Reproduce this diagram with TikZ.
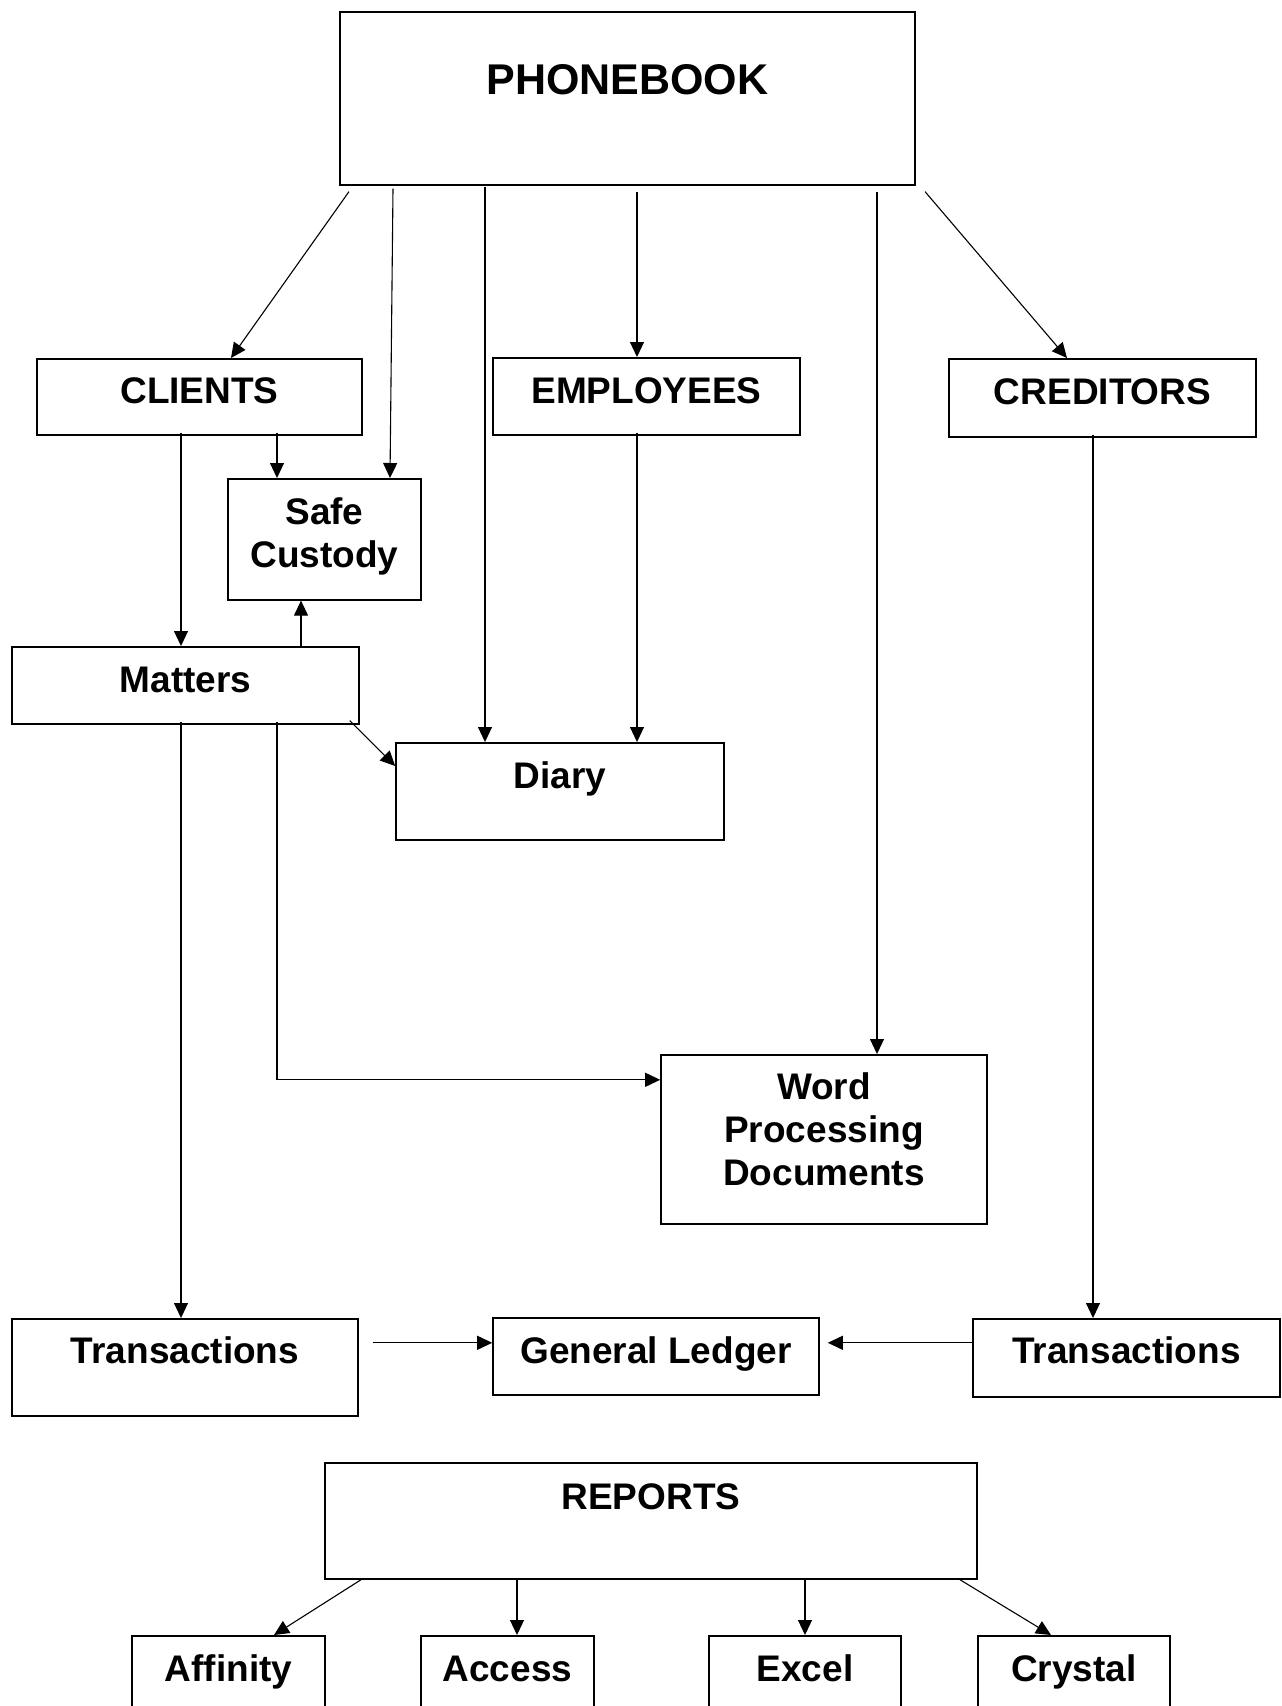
\documentclass[tikz,border=0pt]{standalone}
\usepackage{fontspec}
\setmainfont{Liberation Sans}
\usepackage{tikz}
\usetikzlibrary{arrows.meta, positioning}

\begin{document}
\begin{tikzpicture}[
  x=1pt, y=-1pt,
  box/.style={draw, line width=1.6pt, inner sep=0pt, anchor=north,
              font=\fontsize{37}{43}\selectfont\bfseries, align=center},
  arr/.style={-{Triangle[length=15pt, width=14pt]}, line width=1.1pt}
]
  \useasboundingbox (0,0) rectangle (1282,1706);
  \fill[white] (0,0) rectangle (1282,1706);
  \clip (0,0) rectangle (1282,1706);

  \node[box, minimum width=575pt, text height=83pt, text depth=90pt,
        font=\fontsize{43}{50}\selectfont\bfseries] (phone) at (627.5,11) {PHONEBOOK};
  \node[box, minimum width=325pt, text height=45pt, text depth=31pt] (clients) at (199.5,358) {CLIENTS};
  \node[box, minimum width=307pt, text height=46pt, text depth=31pt] (emp)     at (646.5,357) {EMPLOYEES};
  \node[box, minimum width=307pt, text height=46pt, text depth=32pt] (cred)    at (1102.5,358) {CREDITORS};
  \node[box, minimum width=193pt, text height=89pt, text depth=32pt] (safe)    at (324.5,478) {Safe\\Custody};
  \node[box, minimum width=347pt, text height=46pt, text depth=31pt] (matters) at (185.5,646) {Matters};
  \node[box, minimum width=328pt, text height=46pt, text depth=51pt] (diary)   at (560,742) {Diary};
  \node[box, minimum width=326pt, text height=131pt, text depth=38pt] (wp)     at (824,1054) {Word\\Processing\\Documents};
  \node[box, minimum width=346pt, text height=45pt, text depth=52pt] (transl)  at (185,1318) {Transactions};
  \node[box, minimum width=326pt, text height=46pt, text depth=31pt] (ledger)  at (656,1317) {General Ledger};
  \node[box, minimum width=307pt, text height=45pt, text depth=33pt] (transr)  at (1126.5,1318) {Transactions};
  \node[box, minimum width=652pt, text height=47pt, text depth=69pt] (reports) at (651,1462) {REPORTS};
  \node[box, minimum width=193pt, text height=46pt, text depth=79pt] (aff)     at (228.5,1635) {Affinity};
  \node[box, minimum width=173pt, text height=46pt, text depth=79pt] (acc)     at (507.5,1635) {Access};
  \node[box, minimum width=192pt, text height=46pt, text depth=79pt] (xls)     at (805,1635) {Excel};
  \node[box, minimum width=192pt, text height=46pt, text depth=79pt] (cry)     at (1074,1635) {Crystal};

  \draw[arr] ([xshift=-278.5pt, yshift=-6pt]phone.south) -- ([xshift=31.5pt]clients.north);
  \draw[arr] ([xshift=-234.5pt, yshift=-3pt]phone.south) -- ([xshift=65.5pt]safe.north);
  \draw[arr] ([xshift=-142.5pt, yshift=-1pt]phone.south) -- ([xshift=-75pt]diary.north);
  \draw[arr] ([xshift=9.5pt, yshift=-6pt]phone.south)    -- ([xshift=-9.5pt]emp.north);
  \draw[arr] ([xshift=249.5pt, yshift=-6pt]phone.south)  -- ([xshift=53pt]wp.north);
  \draw[arr] ([xshift=297.5pt, yshift=-6pt]phone.south)  -- ([xshift=-35.5pt]cred.north);
  \draw[arr] ([xshift=77.5pt, yshift=3pt]clients.south)  -- ([xshift=-47.5pt]safe.north);
  \draw[arr] ([xshift=-18.5pt, yshift=3pt]clients.south) -- ([xshift=-4.5pt]matters.north);
  \draw[arr] ([xshift=115.5pt]matters.north)             -- ([xshift=-23.5pt]safe.south);
  \draw[arr] ([xshift=-10pt, yshift=4pt]matters.south east) -- ([yshift=-24pt]diary.north west);
  \draw[arr] ([xshift=-9.5pt, yshift=3pt]emp.south)      -- ([xshift=77pt]diary.north);
  \draw[arr] ([xshift=91.5pt, yshift=3pt]matters.south)  |- ([yshift=59.5pt]wp.west);
  \draw[arr] ([xshift=-4.5pt, yshift=3pt]matters.south)  -- ([xshift=-4pt]transl.north);
  \draw[arr] ([xshift=-9.5pt, yshift=3pt]cred.south)     -- ([xshift=-33.5pt]transr.north);
  \draw[arr] ([xshift=14pt, yshift=24.5pt]transl.east)   -- ([yshift=13.5pt]ledger.west);
  \draw[arr] ([yshift=15pt]transr.west)                  -- ([xshift=8pt, yshift=13.5pt]ledger.east);
  \draw[arr] ([xshift=37pt]reports.south west)           -- ([xshift=45.5pt]aff.north);
  \draw[arr] ([xshift=-134pt]reports.south)              -- ([xshift=9.5pt]acc.north);
  \draw[arr] ([xshift=154pt]reports.south)               -- (xls.north);
  \draw[arr] ([xshift=-18pt]reports.south east)          -- ([xshift=-23pt]cry.north);
\end{tikzpicture}
\end{document}
